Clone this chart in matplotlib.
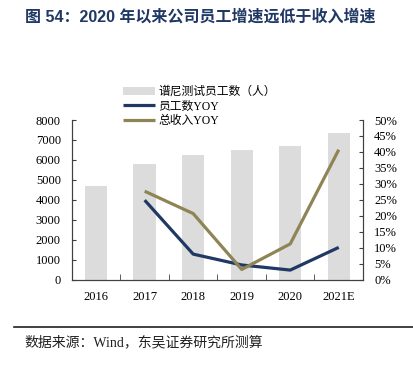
import matplotlib
matplotlib.use('Agg')
import matplotlib.pyplot as plt
import numpy as np
from matplotlib.ticker import FuncFormatter

plt.rcParams['font.family'] = ['Liberation Serif', 'Noto Sans CJK SC']

years = ['2016', '2017', '2018', '2019', '2020', '2021E']
staff = [4680, 5820, 6250, 6520, 6700, 7350]
staff_yoy = [None, 24.9, 8.0, 4.6, 3.0, 10.1]
revenue_yoy = [None, 27.7, 20.7, 3.2, 11.2, 40.7]

c_bar = '#DCDCDC'
c_staff = '#1F3864'
c_rev = '#8E8456'
c_axis = '#404040'

fig = plt.figure(figsize=(4.13, 3.67), dpi=100)
ax = fig.add_axes([0.174, 0.238, 0.705, 0.435])
ax2 = ax.twinx()

x = np.arange(len(years))
bars = ax.bar(x, staff, width=0.46, color=c_bar, label='谱尼测试员工数（人）', zorder=1)

xl = x[1:]
l1, = ax2.plot(xl, staff_yoy[1:], color=c_staff, lw=2.3, label='员工数YOY', solid_capstyle='butt')
l2, = ax2.plot(xl, revenue_yoy[1:], color=c_rev, lw=2.3, label='总收入YOY', solid_capstyle='butt')

ax.set_xlim(-0.5, len(years) - 0.5)
ax.set_ylim(0, 8000)
ax.set_yticks(np.arange(0, 8001, 1000))
ax2.set_ylim(0, 50)
ax2.set_yticks(np.arange(0, 51, 5))
ax2.yaxis.set_major_formatter(FuncFormatter(lambda v, p: '{:d}%'.format(int(v))))

ax.set_xticks(x)
ax.set_xticklabels(years)
ax.set_xticks(np.arange(0.5, len(years) - 1, 1.0), minor=True)
ax.tick_params(axis='x', which='major', length=0, pad=8, labelsize=9)
ax.tick_params(axis='x', which='minor', direction='in', length=4, color=c_axis)
ax.tick_params(axis='y', direction='in', length=3, labelsize=9, color=c_axis, pad=8)
ax2.tick_params(axis='y', direction='in', length=3, labelsize=9, color=c_axis, pad=8)

for a in (ax, ax2):
  a.spines['top'].set_visible(False)
  for s in ('left', 'right', 'bottom'):
    a.spines[s].set_color(c_axis)
    a.spines[s].set_linewidth(0.8)

fig.legend(handles=[bars, l1, l2], loc='upper left', bbox_to_anchor=(0.283, 0.782),
           frameon=False, fontsize=8.5, handlelength=2.7, handleheight=0.7,
           labelspacing=0.23, borderpad=0, handletextpad=0.3)

fig.text(0.06, 0.955, '图 54：2020 年以来公司员工增速远低于收入增速', fontsize=11.5,
         fontweight='bold', color='#1F3864', family=['Liberation Sans', 'Noto Sans CJK SC'],
         va='center', ha='left')

fig.add_artist(plt.Line2D([0.035, 1.0], [0.11, 0.11], color='#202020', lw=1.2))
fig.text(0.058, 0.066, '数据来源：Wind，东吴证券研究所测算', fontsize=10,
         color='#202020', va='center', ha='left')

fig.savefig('out.png', dpi=100)
